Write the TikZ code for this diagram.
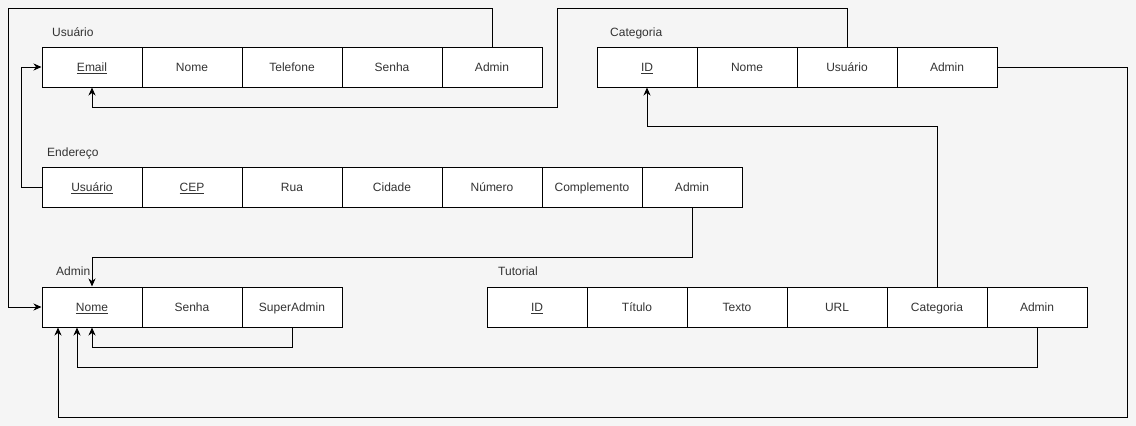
\documentclass[tikz,border=0pt]{standalone}
\usepackage{fontspec}
\setmainfont{Liberation Sans}
\usepackage{tikz}
\usetikzlibrary{calc, arrows.meta}
\definecolor{bgcol}{HTML}{F5F5F5}
\definecolor{txtcol}{HTML}{333333}
\tikzstyle{cell}=[draw, fill=white, line width=1pt, minimum width=100pt, minimum height=40pt, inner sep=0pt, text height=10.5pt, text depth=1.5pt, text=txtcol, font=\fontsize{12}{14}\selectfont]
\tikzstyle{title}=[anchor=west, inner sep=0pt, text height=10.5pt, text depth=1.5pt, text=txtcol, font=\fontsize{12}{14}\selectfont]
\tikzstyle{fk}=[draw, line width=1pt, -{Stealth[length=8pt,width=7pt,inset=2.5pt]}]

\begin{document}
\begin{tikzpicture}[x=1pt,y=-1pt,node distance=100pt]
      \fill[bgcol] (0,0) rectangle (1136,426);

      \node [title] (tu) at (52,32) {Usuário};
      \node [cell] (u1) at (92,67) {\underline{Email}};
      \node [cell] (u2) [right of=u1] {Nome};
      \node [cell] (u3) [right of=u2] {Telefone};
      \node [cell] (u4) [right of=u3] {Senha};
      \node [cell] (u5) [right of=u4] {Admin};

      \node [title] (tc) at (610,32) {Categoria};
      \node [cell] (c1) at (647,67) {\underline{ID}};
      \node [cell] (c2) [right of=c1] {Nome};
      \node [cell] (c3) [right of=c2] {Usuário};
      \node [cell] (c4) [right of=c3] {Admin};

      \node [title] (te) at (47,152) {Endereço};
      \node [cell] (e1) at (92,187) {\underline{Usuário}};
      \node [cell] (e2) [right of=e1] {\underline{CEP}};
      \node [cell] (e3) [right of=e2] {Rua};
      \node [cell] (e4) [right of=e3] {Cidade};
      \node [cell] (e5) [right of=e4] {Número};
      \node [cell] (e6) [right of=e5] {Complemento};
      \node [cell] (e7) [right of=e6] {Admin};

      \node [title] (ta) at (56,271) {Admin};
      \node [cell] (a1) at (92,307) {\underline{Nome}};
      \node [cell] (a2) [right of=a1] {Senha};
      \node [cell] (a3) [right of=a2] {SuperAdmin};

      \node [title] (tt) at (498,271) {Tutorial};
      \node [cell] (t1) at (537,307) {\underline{ID}};
      \node [cell] (t2) [right of=t1] {Título};
      \node [cell] (t3) [right of=t2] {Texto};
      \node [cell] (t4) [right of=t3] {URL};
      \node [cell] (t5) [right of=t4] {Categoria};
      \node [cell] (t6) [right of=t5] {Admin};

      \path[fk] (u5.north) |- (8,8) |- (a1.west);
      \path[fk] (c3.north) |- (557,8) |- ([yshift=-20pt]u1.south) -- (u1.south);
      \path[fk] (c4.east) -| (1127,417) -| ([xshift=-34pt]a1.south);
      \path[fk] (e1.west) -- ++(-20,0) |- (u1.west);
      \path[fk] (e7.south) -- ++(0,50) -| (a1.north);
      \path[fk] (a3.south) -- ++(0,20) -| (a1.south);
      \path[fk] (t5.north) -- ++(0,-160) -| (c1.south);
      \path[fk] (t6.south) -- ++(0,40) -| ([xshift=-15pt]a1.south);
  \end{tikzpicture}
\end{document}
